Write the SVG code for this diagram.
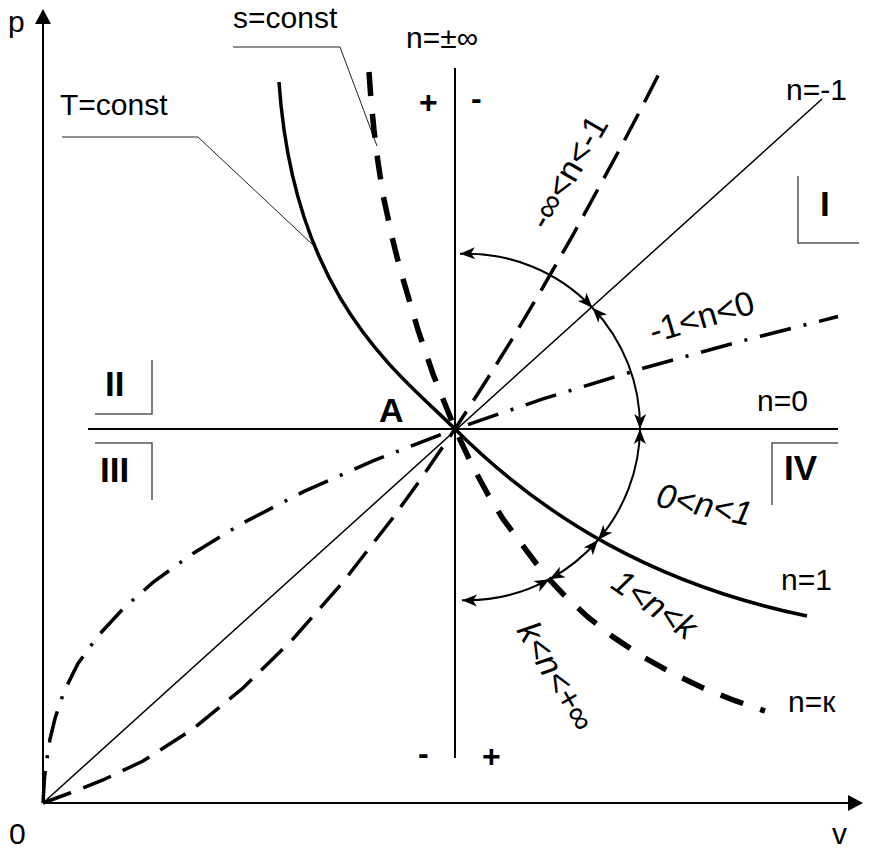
<svg xmlns="http://www.w3.org/2000/svg" width="872" height="853" viewBox="0 0 872 853">
<style>
text { font-family: "Liberation Sans", Arial, sans-serif; fill:#000; }
.lbl { font-size:30px; }
.rot { font-size:34px; }
.it { font-style:italic; }
.pm { font-size:32px; font-weight:bold; }
.quad { font-size:35px; font-weight:bold; }
.axis { stroke:#000; stroke-width:2; fill:none; }
.thin { stroke:#000; stroke-width:1.5; fill:none; }
.lead { stroke:#222; stroke-width:1; fill:none; }
.brk { stroke:#555; stroke-width:1.5; fill:none; }
.tcur { stroke:#000; stroke-width:3.5; fill:none; }
.scur { stroke:#000; stroke-width:5.5; fill:none; stroke-dasharray:24 18; }
.dash { stroke:#000; stroke-width:3.5; fill:none; stroke-dasharray:30 13; }
.dd { stroke:#000; stroke-width:3.5; fill:none; stroke-dasharray:32 13 3 13; }
.arc { stroke:#000; stroke-width:2; fill:none; marker-start:url(#ah); marker-end:url(#ah); }
</style>
<defs>
<marker id="ah" viewBox="-16 -7 17 14" refX="0" refY="0" markerWidth="17" markerHeight="14" markerUnits="userSpaceOnUse" orient="auto-start-reverse">
<path d="M0,0 L-15,-6 L-11,0 L-15,6 Z" fill="#000"/>
</marker>
</defs>
<rect width="872" height="853" fill="#fff"/>

<g id="axes">
<line class="axis" x1="43" y1="803" x2="43" y2="20"/>
<polygon points="43,9 35,24 51,24" fill="#000"/>
<line class="axis" x1="43" y1="803" x2="850" y2="803"/>
<polygon points="863,803 848,795 848,811" fill="#000"/>
</g>

<g id="reference-lines">
<line class="axis" x1="455" y1="68" x2="455" y2="758"/>
<line class="axis" x1="88" y1="429" x2="838" y2="429"/>
<line class="thin" x1="43" y1="803" x2="822" y2="99"/>
</g>

<g id="quadrant-marks">
<polyline class="brk" points="798,176 798,243 859,243"/>
<polyline class="brk" points="95,414 152,414 152,360"/>
<polyline class="brk" points="95,443 152,443 152,500"/>
<polyline class="brk" points="838,443 772,443 772,505"/>
</g>

<g id="leaders">
<polyline class="lead" points="62,137 198,137 313,245"/>
<polyline class="lead" points="233,47 340,47 377,146"/>
</g>

<g id="curves">
<path id="isotherm" class="tcur" d="M279,82 C294,300 400,374 455,429 C545,519 657,585 807,616"/>
<path id="adiabat" class="scur" d="M369,72 L371,100 L374,130 L378,162 L383,195 L388,218 L392,237 L397,257 L403,279 L418,330 L433,374 L455,429 L473,467 L488,494.5 L503,519 L543,572.6 L563,594 L588,617.2 L613,636.9 L643,656.9 L673,673.6 L703,687.9 L735,700.7 L765,711"/>
<path id="n-neg-large" class="dash" d="M43,803 L70,793 L103,780 L143,761 L193,729 L243,688 L293,639 L343,582.1 L393,517.7 L418,483 L455,429 L483,385.8 L513,337.7 L543,287.2 L573,234.8 L623,143.2 L643,105 L664,64"/>
<path id="n-neg-small" class="dd" d="M43,803 L44.5,777.5 L47,758.6 L50,739 L55,718.5 L64,691.5 L78,663.5 L98,635.9 L123,608.8 L153,582.4 L193,553.4 L243,523 L303,491.9 L373,460.8 L455,429 L543,398.9 L643,368.3 L743,340.7 L838,316.5"/>
</g>

<g id="connectors">
<path class="arc" d="M460,253.8 A173.3,173.3 0 0 1 592.4,307.7"/>
<path class="arc" d="M592.4,307.7 A173.3,173.3 0 0 1 640,429"/>
<path class="arc" d="M640,429 A173.3,173.3 0 0 1 598,540"/>
<path class="arc" d="M598,540 A173.3,173.3 0 0 1 549.6,579.2"/>
<path class="arc" d="M549.6,579.2 A173.3,173.3 0 0 1 462,600.2"/>
</g>

<g id="labels">
<text class="lbl" x="8" y="32">p</text>
<text class="lbl" x="233" y="28">s=const</text>
<text class="lbl" x="60" y="115">T=const</text>
<text class="lbl" x="406" y="48">n=±∞</text>
<text class="pm" x="419" y="113">+</text>
<text class="pm" x="471" y="109">-</text>
<text class="lbl" x="786" y="100">n=-1</text>
<text class="quad" x="820" y="216">I</text>
<text class="quad" x="105" y="396">II</text>
<text class="quad" x="100" y="482">III</text>
<text class="quad" x="784" y="480">IV</text>
<text x="379" y="422" style="font-size:34px;font-weight:bold">A</text>
<text class="lbl" x="757" y="411">n=0</text>
<text class="lbl" x="781" y="590">n=1</text>
<text class="lbl" x="788" y="712">n=к</text>
<text class="lbl" x="9" y="844">0</text>
<text class="lbl" x="832" y="844">v</text>
<text class="pm" x="418" y="764">-</text>
<text class="pm" x="482" y="767">+</text>
<text class="rot" text-anchor="middle" transform="translate(578,178) rotate(-60)">-∞&lt;n&lt;-1</text>
<text class="rot" text-anchor="middle" transform="translate(705,328) rotate(-16.5)">-1&lt;n&lt;0</text>
<text class="rot it" text-anchor="middle" transform="translate(702,516) rotate(12)">0&lt;n&lt;1</text>
<text class="rot it" text-anchor="middle" transform="translate(648,614) rotate(35)">1&lt;n&lt;k</text>
<text class="rot it" text-anchor="middle" transform="translate(546,682) rotate(60)">k&lt;n&lt;+∞</text>
</g>
</svg>
